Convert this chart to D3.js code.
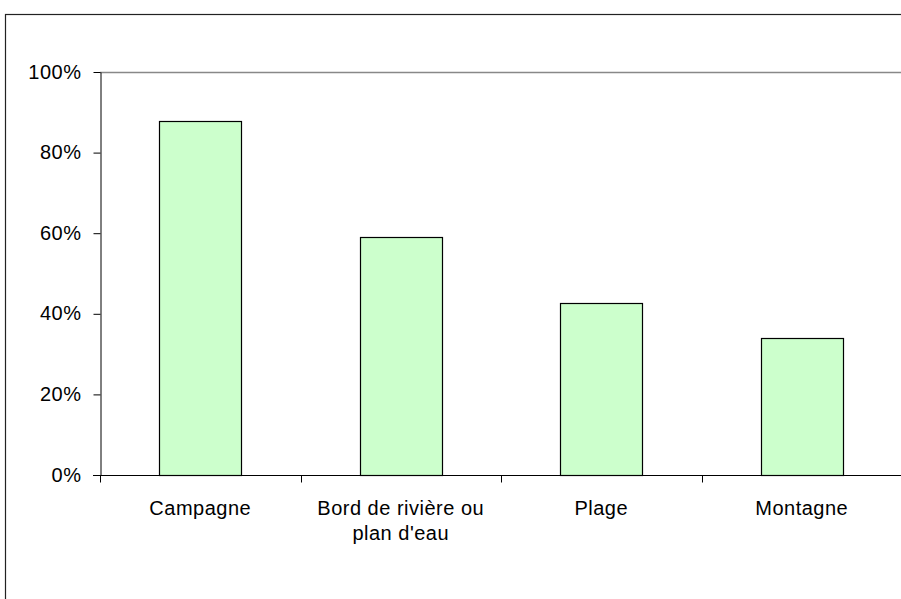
<!DOCTYPE html>
<html><head><meta charset="utf-8">
<script src="https://cdn.jsdelivr.net/npm/d3@7"></script>
<style>body{margin:0;background:#fff}svg{display:block}text{font-family:"Liberation Sans",Arial,sans-serif;font-size:20px;letter-spacing:0.5px;fill:#000}</style>
</head><body>
<script>
const categories = ["Campagne", "Bord de rivière ou|plan d'eau", "Plage", "Montagne"];
const values = [0.878, 0.591, 0.427, 0.340];
const yTicks = [0, 0.2, 0.4, 0.6, 0.8, 1.0];

const W = 901, H = 599;
const svg = d3.select("body").append("svg").attr("width", W).attr("height", H);
svg.append("rect").attr("x", 5.5).attr("y", 14.5).attr("width", W + 10).attr("height", H + 10)
  .attr("fill", "none").attr("stroke", "#222").attr("stroke-width", 1.2);

const x = d3.scaleBand().domain(categories).range([100, 902]).paddingInner(0.59).paddingOuter(0.295);
const y = d3.scaleLinear().domain([0, 1]).range([475, 72]);

// plot area top border
svg.append("line").attr("x1", 100).attr("x2", W + 5).attr("y1", 72.5).attr("y2", 72.5)
  .attr("stroke", "#888").attr("stroke-width", 1.5);

svg.selectAll("rect.bar").data(values).join("rect").attr("class", "bar")
  .attr("x", (d, i) => Math.round(x(categories[i])) + 0.5)
  .attr("width", Math.round(x.bandwidth()))
  .attr("y", d => Math.round(y(d)) + 0.5)
  .attr("height", d => Math.round(y(0) - y(d)))
  .attr("fill", "#CCFFCC").attr("stroke", "#000").attr("stroke-width", 1.2);

// y axis
const yAxis = d3.axisLeft(y).tickValues(yTicks).tickFormat(d3.format(".0%")).tickSizeInner(7).tickSizeOuter(0);
const gy = svg.append("g").attr("transform", "translate(100.5,0)").call(yAxis);
gy.attr("font-size", null).attr("font-family", null);
gy.select(".domain").attr("stroke", "#000");
gy.selectAll(".tick line").attr("stroke", "#000");
gy.selectAll(".tick text").attr("x", -19).attr("dy", "0.3em");

// x axis
const gx = svg.append("g").attr("transform", "translate(0,475.5)");
gx.append("line").attr("x1", 93).attr("x2", W + 5).attr("stroke", "#000");
const bounds = [0, 1, 2, 3, 4].map(i => 100 + i * (802 / 4));
gx.selectAll("line.tk").data(bounds).join("line").attr("class", "tk")
  .attr("x1", d => Math.round(d) + 0.5).attr("x2", d => Math.round(d) + 0.5)
  .attr("y1", 0).attr("y2", 7).attr("stroke", "#000");
gx.selectAll("text.lbl").data(categories).join("text").attr("class", "lbl")
  .attr("text-anchor", "middle")
  .attr("transform", d => `translate(${x(d) + x.bandwidth() / 2},0)`)
  .each(function (d) {
    const lines = d.split("|");
    d3.select(this).selectAll("tspan").data(lines).join("tspan")
      .attr("x", 0).attr("y", (l, j) => 39 + j * 25).text(l => l);
  });
</script>
</body></html>
